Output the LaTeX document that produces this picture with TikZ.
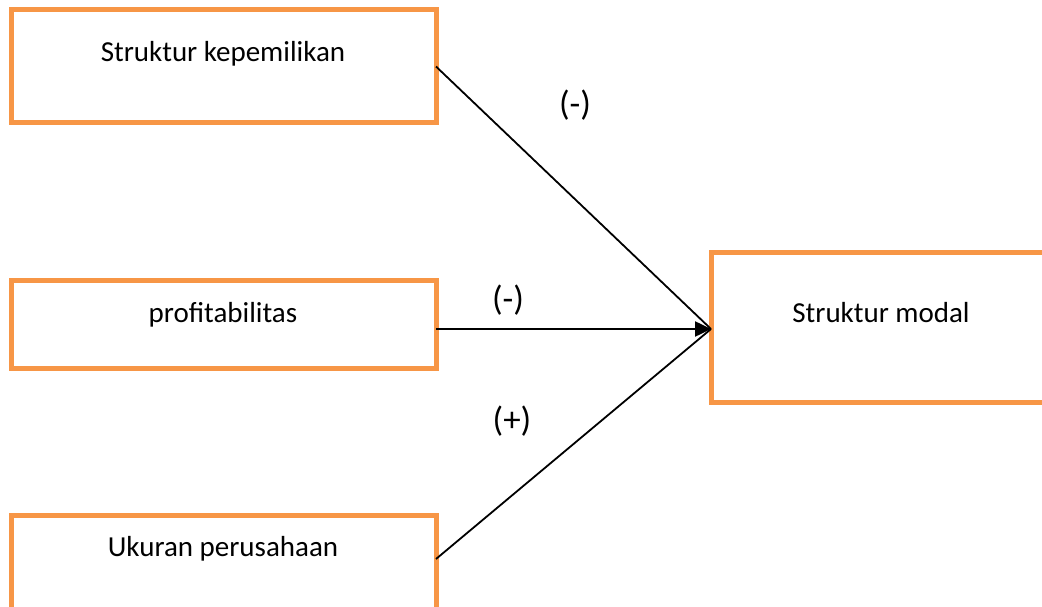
\documentclass[tikz,border=0pt]{standalone}
\usepackage{fontspec}
\setmainfont{Carlito}
\usetikzlibrary{arrows.meta}
\definecolor{boxorange}{HTML}{F79646}

\begin{document}
\begin{tikzpicture}[x=1pt,y=-1pt,
  varbox/.style={draw=boxorange, line width=5pt, rectangle, inner sep=0pt, outer sep=0pt, anchor=north west},
  vartext/.style={font=\fontsize{29}{35}\selectfont, inner sep=0pt, anchor=base},
  sign/.style={font=\fontsize{35}{42}\selectfont, inner sep=0pt}]
\useasboundingbox (0,0) rectangle (1042,607);
% variable boxes
\node[varbox, minimum width=425pt, minimum height=113pt] (kepemilikan) at (11,10) {};
\node[varbox, minimum width=425pt, minimum height=88pt] (profit) at (11,280) {};
\node[varbox, minimum width=425pt, minimum height=100pt] (ukuran) at (11,515) {};
\node[varbox, minimum width=360pt, minimum height=150pt] (modal) at (711,252) {};
\node[vartext] (kepemilikantxt) at (223,62) {Struktur kepemilikan};
\node[vartext] (profittxt) at (223,322) {profitabilitas};
\node[vartext] (ukurantxt) at (223,556) {Ukuran perusahaan};
\node[vartext] (modaltxt) at (881,322) {Struktur modal};
% paths
\coordinate (hub) at (711,329);
\draw[line width=1.8pt] (kepemilikan.east) -- (hub);
\draw[line width=2.5pt, -{Triangle[length=16pt,width=15pt]}] (profit.east |- hub) -- (hub);
\draw[line width=1.8pt] ([yshift=-44pt]ukuran.north east) -- (hub);
\node[sign] (s1) at (575,105) {(-)};
\node[sign] (s2) at (508,300) {(-)};
\node[sign] (s3) at (512,421) {(+)};
\end{tikzpicture}
\end{document}
